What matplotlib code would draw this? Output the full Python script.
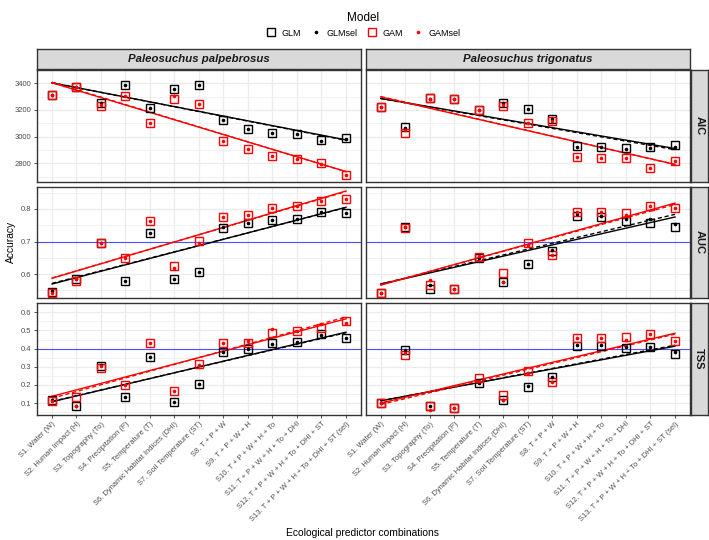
import matplotlib
matplotlib.use("Agg")
import matplotlib.pyplot as plt
from matplotlib.lines import Line2D
import numpy as np

plt.rcParams["font.family"] = ["Liberation Sans", "DejaVu Sans"]

# categories
combos = ["S1. Water (W)", "S2. Human Impact (H)", "S3. Topography (To)",
          "S4. Precipitation (P)", "S5. Temperature (T)",
          "S6. Dynamic Habitat Indices (DHI)", "S7. Soil Temperature (ST)",
          "S8. T + P + W", "S9. T + P + W + H", "S10. T + P + W + H + To",
          "S11. T + P + W + H + To + DHI", "S12. T + P + W + H + To + DHI + ST",
          "S13. T + P + W + H + To + DHI + ST (sel)"]
species = ["Paleosuchus palpebrosus", "Paleosuchus trigonatus"]
metrics = ["AIC", "AUC", "TSS"]
models = ["GLM", "GLMsel", "GAM", "GAMsel"]

# values
palp_aic_glm = [3309, 3372, 3256, 3384, 3217, 3360, 3384, 3123, 3054, 3024, 3017, 2977, 2989]
palp_aic_glmsel = [3309, 3372, 3250, 3384, 3217, 3360, 3384, 3123, 3054, 3024, 3017, 2967, 2985]
palp_aic_gam = [3309, 3372, 3230, 3307, 3100, 3286, 3245, 2970, 2907, 2854, 2834, 2799, 2710]
palp_aic_gamsel = [3309, 3372, 3240, 3307, 3100, 3302, 3245, 2970, 2907, 2854, 2834, 2795, 2710]

palp_auc_glm = [0.545, 0.584, 0.695, 0.580, 0.726, 0.585, 0.608, 0.741, 0.757, 0.767, 0.769, 0.792, 0.787]
palp_auc_glmsel = [0.549, 0.586, 0.695, 0.580, 0.726, 0.585, 0.608, 0.744, 0.757, 0.767, 0.769, 0.790, 0.787]
palp_auc_gam = [0.541, 0.579, 0.695, 0.649, 0.762, 0.625, 0.702, 0.775, 0.782, 0.803, 0.808, 0.823, 0.830]
palp_auc_gamsel = [0.543, 0.586, 0.695, 0.649, 0.762, 0.618, 0.695, 0.775, 0.782, 0.803, 0.808, 0.823, 0.830]

palp_tss_glm = [0.115, 0.084, 0.305, 0.135, 0.352, 0.106, 0.206, 0.380, 0.398, 0.431, 0.436, 0.480, 0.458]
palp_tss_glmsel = [0.115, 0.084, 0.310, 0.135, 0.352, 0.106, 0.206, 0.380, 0.398, 0.425, 0.436, 0.474, 0.458]
palp_tss_gam = [0.113, 0.135, 0.291, 0.198, 0.431, 0.164, 0.317, 0.431, 0.430, 0.487, 0.497, 0.514, 0.551]
palp_tss_gamsel = [0.113, 0.084, 0.305, 0.198, 0.431, 0.164, 0.310, 0.431, 0.440, 0.509, 0.497, 0.534, 0.540]

trig_aic_glm = [3221, 3070, 3291, 3279, 3198, 3256, 3210, 3135, 2931, 2926, 2914, 2919, 2935]
trig_aic_glmsel = [3221, 3063, 3285, 3279, 3198, 3250, 3210, 3130, 2925, 2926, 2905, 2912, 2919]
trig_aic_gam = [3221, 3031, 3291, 3279, 3198, 3233, 3100, 3116, 2845, 2843, 2843, 2768, 2815]
trig_aic_gamsel = [3221, 3050, 3280, 3279, 3198, 3240, 3100, 3116, 2845, 2843, 2843, 2768, 2815]

trig_auc_glm = [0.543, 0.746, 0.554, 0.555, 0.648, 0.577, 0.630, 0.671, 0.777, 0.775, 0.762, 0.757, 0.746]
trig_auc_glmsel = [0.543, 0.746, 0.567, 0.555, 0.648, 0.577, 0.630, 0.675, 0.785, 0.779, 0.768, 0.769, 0.755]
trig_auc_gam = [0.543, 0.740, 0.567, 0.555, 0.654, 0.605, 0.695, 0.659, 0.792, 0.789, 0.787, 0.808, 0.803]
trig_auc_gamsel = [0.543, 0.743, 0.582, 0.555, 0.656, 0.577, 0.690, 0.659, 0.792, 0.789, 0.780, 0.808, 0.803]

trig_tss_glm = [0.100, 0.390, 0.084, 0.075, 0.211, 0.114, 0.186, 0.245, 0.415, 0.415, 0.404, 0.407, 0.373]
trig_tss_glmsel = [0.100, 0.392, 0.084, 0.072, 0.211, 0.114, 0.192, 0.245, 0.420, 0.420, 0.408, 0.410, 0.380]
trig_tss_gam = [0.100, 0.364, 0.084, 0.075, 0.237, 0.143, 0.274, 0.216, 0.458, 0.458, 0.463, 0.483, 0.444]
trig_tss_gamsel = [0.100, 0.377, 0.062, 0.070, 0.220, 0.114, 0.268, 0.216, 0.458, 0.458, 0.450, 0.483, 0.444]

data = {
    (0, 0): [palp_aic_glm, palp_aic_glmsel, palp_aic_gam, palp_aic_gamsel],
    (0, 1): [palp_auc_glm, palp_auc_glmsel, palp_auc_gam, palp_auc_gamsel],
    (0, 2): [palp_tss_glm, palp_tss_glmsel, palp_tss_gam, palp_tss_gamsel],
    (1, 0): [trig_aic_glm, trig_aic_glmsel, trig_aic_gam, trig_aic_gamsel],
    (1, 1): [trig_auc_glm, trig_auc_glmsel, trig_auc_gam, trig_auc_gamsel],
    (1, 2): [trig_tss_glm, trig_tss_glmsel, trig_tss_gam, trig_tss_gamsel],
}

ylims = [(2662, 3442), (0.526, 0.868), (0.034, 0.605)]
yticks = [[2800, 3000, 3200, 3400], [0.6, 0.7, 0.8], [0.1, 0.2, 0.3, 0.4, 0.5, 0.6]]
yticklabels = [["2800", "3000", "3200", "3400"], ["0.6", "0.7", "0.8"],
               ["0.1", "0.2", "0.3", "0.4", "0.5", "0.6"]]
hlines = [None, 0.7, 0.4]

colors = ["black", "black", "red", "red"]
markers = ["s", "o", "s", "o"]
linestyles = ["-", (0, (3, 2)), "-", (0, (3, 2))]

W, H = 709, 540
fig = plt.figure(figsize=(W / 100, H / 100), dpi=100)

def rect(x0, y0, x1, y1):
    return [x0 / W, 1 - y1 / H, (x1 - x0) / W, (y1 - y0) / H]

col_x = [(37.3, 360.7), (366.0, 689.7)]
row_y = [(70.0, 181.7), (186.7, 298.3), (303.3, 415.0)]
border = "#333333"
grid_c = "#EBEBEB"
strip_c = "#D9D9D9"
tick_c = "#4D4D4D"

x = np.arange(1, len(combos) + 1)

for c in range(2):
    for r in range(3):
        ax = fig.add_axes(rect(col_x[c][0], row_y[r][0], col_x[c][1], row_y[r][1]))
        ax.set_xlim(0.4, 13.6)
        ax.set_ylim(*ylims[r])
        ax.set_xticks(x)
        ax.set_yticks(yticks[r])
        step = yticks[r][1] - yticks[r][0]
        minor = np.arange(yticks[r][0] - step / 2, yticks[r][-1] + step, step)
        ax.set_yticks(minor, minor=True)
        ax.grid(True, which="major", color=grid_c, lw=0.9, zorder=0)
        ax.grid(True, which="minor", axis="y", color=grid_c, lw=0.5, zorder=0)
        ax.set_axisbelow(True)
        for s in ax.spines.values():
            s.set_color(border)
            s.set_linewidth(1.0)
        ax.tick_params(which="minor", length=0)
        ax.tick_params(which="major", length=2.5, width=0.6, color=border,
                       labelsize=5.5, labelcolor=tick_c, pad=1.5)
        if c == 0:
            ax.set_yticklabels(yticklabels[r])
        else:
            ax.tick_params(axis="y", length=0, labelleft=False)
        if r == 2:
            ax.set_xticklabels(combos, rotation=45, ha="right",
                               rotation_mode="anchor", fontsize=5.4)
        else:
            ax.tick_params(axis="x", length=0, labelbottom=False)
        if hlines[r] is not None:
            ax.axhline(hlines[r], color="#5050FF", lw=0.8, zorder=1.5)

        series = data[(c, r)]
        # linear trend per model
        for k in range(4):
            yv = np.array(series[k])
            b1, b0 = np.polyfit(x, yv, 1)
            ax.plot(x, b0 + b1 * x, color=colors[k], ls=linestyles[k], lw=1.0, zorder=2)
        for k in range(4):
            yv = series[k]
            if markers[k] == "s":
                ax.plot(x, yv, ls="none", marker="s", ms=5.2, mfc="none",
                        mec=colors[k], mew=1.0, zorder=3)
            else:
                ax.plot(x, yv, ls="none", marker="o", ms=2.6, mfc=colors[k],
                        mec=colors[k], mew=0, zorder=4)

    # top strip
    sax = fig.add_axes(rect(col_x[c][0], 48.5, col_x[c][1], 68.5))
    sax.set_facecolor(strip_c)
    sax.set_xticks([])
    sax.set_yticks([])
    for s in sax.spines.values():
        s.set_color(border)
        s.set_linewidth(1.0)
    sax.text(0.5, 0.47, species[c], transform=sax.transAxes, ha="center",
             va="center", fontsize=8.2, fontstyle="italic", fontweight="bold",
             color="#1A1A1A")

# right strips
for r in range(3):
    sax = fig.add_axes(rect(691.2, row_y[r][0], 707.5, row_y[r][1]))
    sax.set_facecolor(strip_c)
    sax.set_xticks([])
    sax.set_yticks([])
    for s in sax.spines.values():
        s.set_color(border)
        s.set_linewidth(1.0)
    sax.text(0.5, 0.5, metrics[r], transform=sax.transAxes, ha="center",
             va="center", fontsize=8, fontweight="bold", rotation=-90,
             color="#1A1A1A")

fig.text(11 / W, 1 - 242 / H, "Accuracy", rotation=90, ha="center", va="center",
         fontsize=7.4)
fig.text(363 / W, 1 - 533 / H, "Ecological predictor combinations", ha="center",
         va="center", fontsize=7.4)

handles = [
    Line2D([], [], ls="none", marker="s", ms=5.2, mfc="none", mec="black", mew=1.0),
    Line2D([], [], ls="none", marker="o", ms=2.6, mfc="black", mec="black", mew=0),
    Line2D([], [], ls="none", marker="s", ms=5.2, mfc="none", mec="red", mew=1.0),
    Line2D([], [], ls="none", marker="o", ms=2.6, mfc="red", mec="red", mew=0),
]
fig.legend(handles, models, loc="upper center", bbox_to_anchor=(363 / W, 1 - 4 / H),
           ncol=4, frameon=False, title="Model", fontsize=6.5,
           title_fontsize=8.5, handlelength=1.2, handletextpad=0.6,
           columnspacing=1.0)

fig.savefig("out.png", dpi=100)
